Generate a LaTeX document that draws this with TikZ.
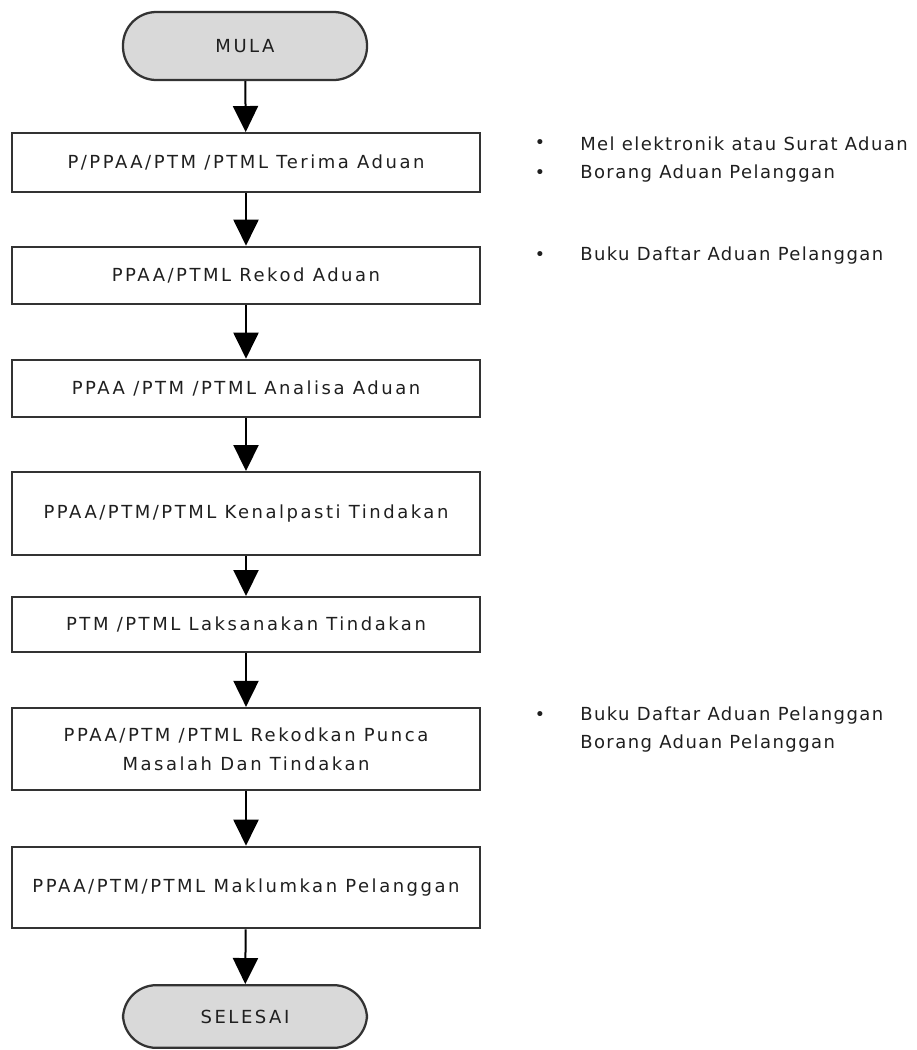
\documentclass[tikz,border=0pt]{standalone}
\usepackage{fontspec}
\setmainfont[LetterSpace=14]{DejaVu Sans}
\newfontfamily\notefont[LetterSpace=8]{DejaVu Sans}
\usetikzlibrary{arrows.meta}
\definecolor{txt}{HTML}{1F1F1F}
\definecolor{edge}{HTML}{333333}
\definecolor{termfill}{HTML}{D9D9D9}
\tikzset{
  stepbox/.style={draw=edge, line width=1.7pt, rectangle, minimum width=351pt, inner sep=0pt, align=center, text=txt, font=\fontsize{13.5}{22}\selectfont},
  term/.style={draw=edge, line width=1.7pt, fill=termfill, rectangle, rounded corners=25pt, minimum width=183pt, inner sep=0pt, text=txt, font=\fontsize{13.5}{22}\selectfont},
  flow/.style={line width=1.5pt, draw=black, -{Triangle[width=18.75pt,length=19.5pt]}},
  note/.style={anchor=west, inner sep=0pt, text=txt, align=left, font=\notefont\fontsize{13.5}{21}\selectfont},
  bul/.style={inner sep=0pt, text=txt, font=\fontsize{13}{14}\selectfont}
}
\begin{document}
\begin{tikzpicture}[x=0.75pt,y=-0.75pt]
\useasboundingbox (0,0) rectangle (917,1050);
\node[term, minimum height=51pt] (start) at (245,46) {MULA};
\node[stepbox, minimum height=44pt] (b1) at (246,162.5) {P/PPAA/PTM /PTML Terima Aduan};
\node[stepbox, minimum height=43pt] (b2) at (246,275.5) {PPAA/PTML Rekod Aduan};
\node[stepbox, minimum height=43pt] (b3) at (246,388.5) {PPAA /PTM /PTML Analisa Aduan};
\node[stepbox, minimum height=62pt] (b4) at (246,513.5) {PPAA/PTM/PTML Kenalpasti Tindakan};
\node[stepbox, minimum height=41pt] (b5) at (246,624.5) {PTM /PTML Laksanakan Tindakan};
\node[stepbox, minimum height=61.5pt] (b6) at (246,749) {PPAA/PTM /PTML Rekodkan Punca\\Masalah Dan Tindakan};
\node[stepbox, minimum height=61pt] (b7) at (246,887.5) {PPAA/PTM/PTML Maklumkan Pelanggan};
\node[term, minimum height=47pt] (end) at (245,1016.5) {SELESAI};
\draw[flow] (start) -- (b1);
\draw[flow] (b1) -- (b2);
\draw[flow] (b2) -- (b3);
\draw[flow] (b3) -- (b4);
\draw[flow] (b4) -- (b5);
\draw[flow] (b5) -- (b6);
\draw[flow] (b6) -- (b7);
\draw[flow] (b7) -- (end);
\node[bul] (d1) at (540,144) {•};
\node[note] (n1) at (580,144) {Mel elektronik atau Surat Aduan};
\node[bul] (d2) at (540,174) {•};
\node[note] (n2) at (580,174) {Borang Aduan Pelanggan};
\node[bul] (d3) at (540,256) {•};
\node[note] (n3) at (580,256) {Buku Daftar Aduan Pelanggan};
\node[bul] (d4) at (540,716) {•};
\node[note] (n4) at (580,716) {Buku Daftar Aduan Pelanggan};
\node[note] (n5) at (580,744) {Borang Aduan Pelanggan};
\end{tikzpicture}
\end{document}
